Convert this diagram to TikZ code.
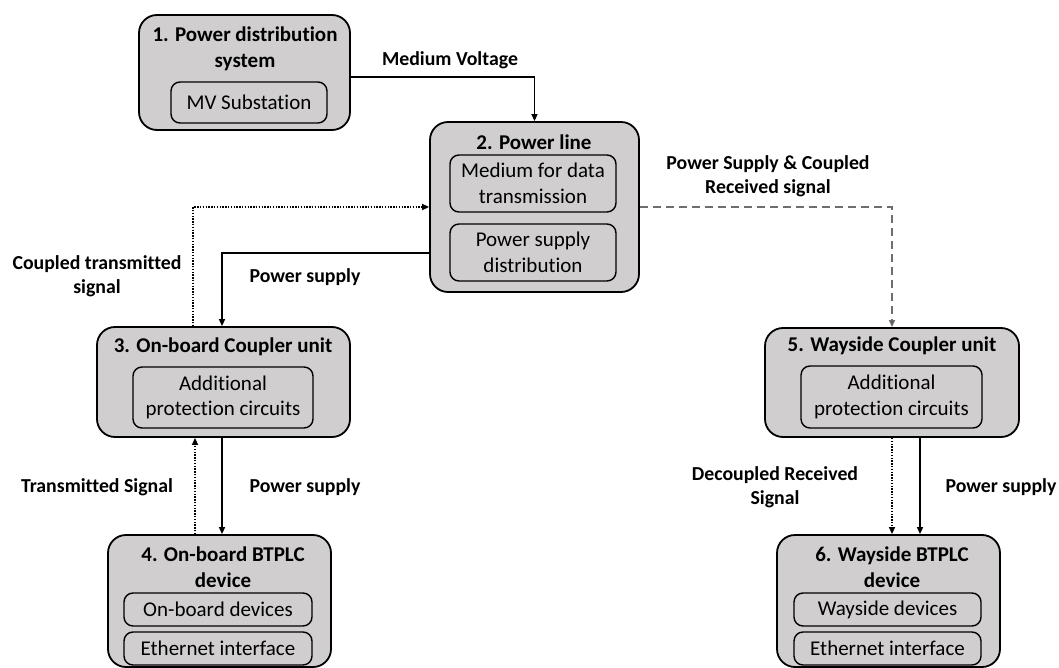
\documentclass[tikz,border=0pt]{standalone}
\usepackage{fontspec}
\setmainfont{Carlito}[Ligatures={NoCommon}]
\usetikzlibrary{arrows.meta,calc}
\definecolor{boxfill}{RGB}{208,206,206}
\definecolor{dashgray}{RGB}{110,110,110}
\tikzset{
  outerbox/.style={draw=black, fill=boxfill, line width=1.8pt, rounded corners=18pt, inner sep=0pt},
  innerbox/.style={draw=black, fill=boxfill, line width=1.4pt, rounded corners=9pt, inner sep=0pt, align=center, font=\fontsize{21}{25.5}\selectfont},
  ttl/.style={font=\bfseries\fontsize{21}{26}\selectfont, align=center, inner sep=0pt},
  lbl/.style={font=\bfseries\fontsize{19.8}{23.5}\selectfont, align=center, inner sep=0pt},
  conn/.style={line width=1.5pt, -{Triangle[length=7pt,width=6pt]}},
  dotconn/.style={line width=1.6pt, dash pattern=on 1.4pt off 1.4pt, -{Triangle[length=7pt,width=6pt]}},
  dashconn/.style={line width=1.6pt, draw=dashgray, dash pattern=on 8pt off 5pt, -{Triangle[length=7pt,width=6pt,fill=black]}}
}
\begin{document}
\begin{tikzpicture}[x=1pt,y=-1pt]
\useasboundingbox (0,0) rectangle (1059,668);
% Box 1
\node[outerbox, minimum width=211pt, minimum height=115pt] (b1) at (244.5,72.5) {};
\node[ttl] (t1) at (245,49) {1. Power distribution\\system};
\node[innerbox, minimum width=156pt, minimum height=41pt] (i1) at (249,102.5) {MV Substation};
% Box 2
\node[outerbox, minimum width=209pt, minimum height=170pt] (b2) at (534.5,207) {};
\node[ttl] (t2) at (534,142) {2. Power line};
\node[innerbox, minimum width=166pt, minimum height=57pt] (i2a) at (533,183.5) {Medium for data\\transmission};
\node[innerbox, minimum width=166pt, minimum height=57pt] (i2b) at (533,252.5) {Power supply\\distribution};
% Box 3
\node[outerbox, minimum width=253pt, minimum height=110pt] (b3) at (223.5,382) {};
\node[ttl] (t3) at (223,347) {3. On-board Coupler unit};
\node[innerbox, minimum width=180pt, minimum height=61pt] (i3) at (223,397.5) {Additional\\protection circuits};
% Box 4
\node[outerbox, minimum width=223pt, minimum height=132pt] (b4) at (219.5,601) {};
\node[ttl] (t4) at (223,567) {4. On-board BTPLC\\device};
\node[innerbox, minimum width=188pt, minimum height=33pt] (i4a) at (218,609.5) {On-board devices};
\node[innerbox, minimum width=188pt, minimum height=33pt] (i4b) at (218,648.5) {Ethernet interface};
% Box 5
\node[outerbox, minimum width=254pt, minimum height=109pt] (b5) at (892,382.5) {};
\node[ttl] (t5) at (892,346) {5. Wayside Coupler unit};
\node[innerbox, minimum width=181pt, minimum height=62pt] (i5) at (891.5,397) {Additional\\protection circuits};
% Box 6
\node[outerbox, minimum width=223pt, minimum height=132pt] (b6) at (888.5,601) {};
\node[ttl] (t6) at (892,567) {6. Wayside BTPLC\\device};
\node[innerbox, minimum width=187pt, minimum height=33pt] (i6a) at (887.5,609.5) {Wayside devices};
\node[innerbox, minimum width=187pt, minimum height=33pt] (i6b) at (887.5,648.5) {Ethernet interface};
% Labels
\node[lbl] (l1) at (450,60) {Medium Voltage};
\node[lbl] (l2) at (768,176) {Power Supply \& Coupled\\Received signal};
\node[lbl] (l3) at (97,276) {Coupled transmitted\\signal};
\node[lbl] (l4) at (305,277) {Power supply};
\node[lbl] (l5) at (97,487) {Transmitted Signal};
\node[lbl] (l6) at (305,487) {Power supply};
\node[lbl] (l7) at (775,487) {Decoupled Received\\Signal};
\node[lbl] (l8) at (1001,487) {Power supply};
% Connectors
\draw[conn] ([yshift=-4.5pt]b1.east) -| (b2.north);
\draw[dotconn] ([xshift=-30.5pt]b3.north) |- (b2.west);
\draw[conn] ([yshift=-46pt]b2.west) -| ([xshift=-1.5pt]b3.north);
\draw[dashconn] (b2.east) -| (b5.north);
\draw[conn] ([xshift=-1.5pt]b3.south) -- ([xshift=-1.5pt]b3.south |- b4.north);
\draw[dotconn] ([xshift=-28.5pt]b3.south |- b4.north) -- ([xshift=-28.5pt]b3.south);
\draw[dotconn] (b5.south) -- (b5.south |- b6.north);
\draw[conn] ([xshift=28pt]b5.south) -- ([xshift=28pt]b5.south |- b6.north);
\end{tikzpicture}
\end{document}
